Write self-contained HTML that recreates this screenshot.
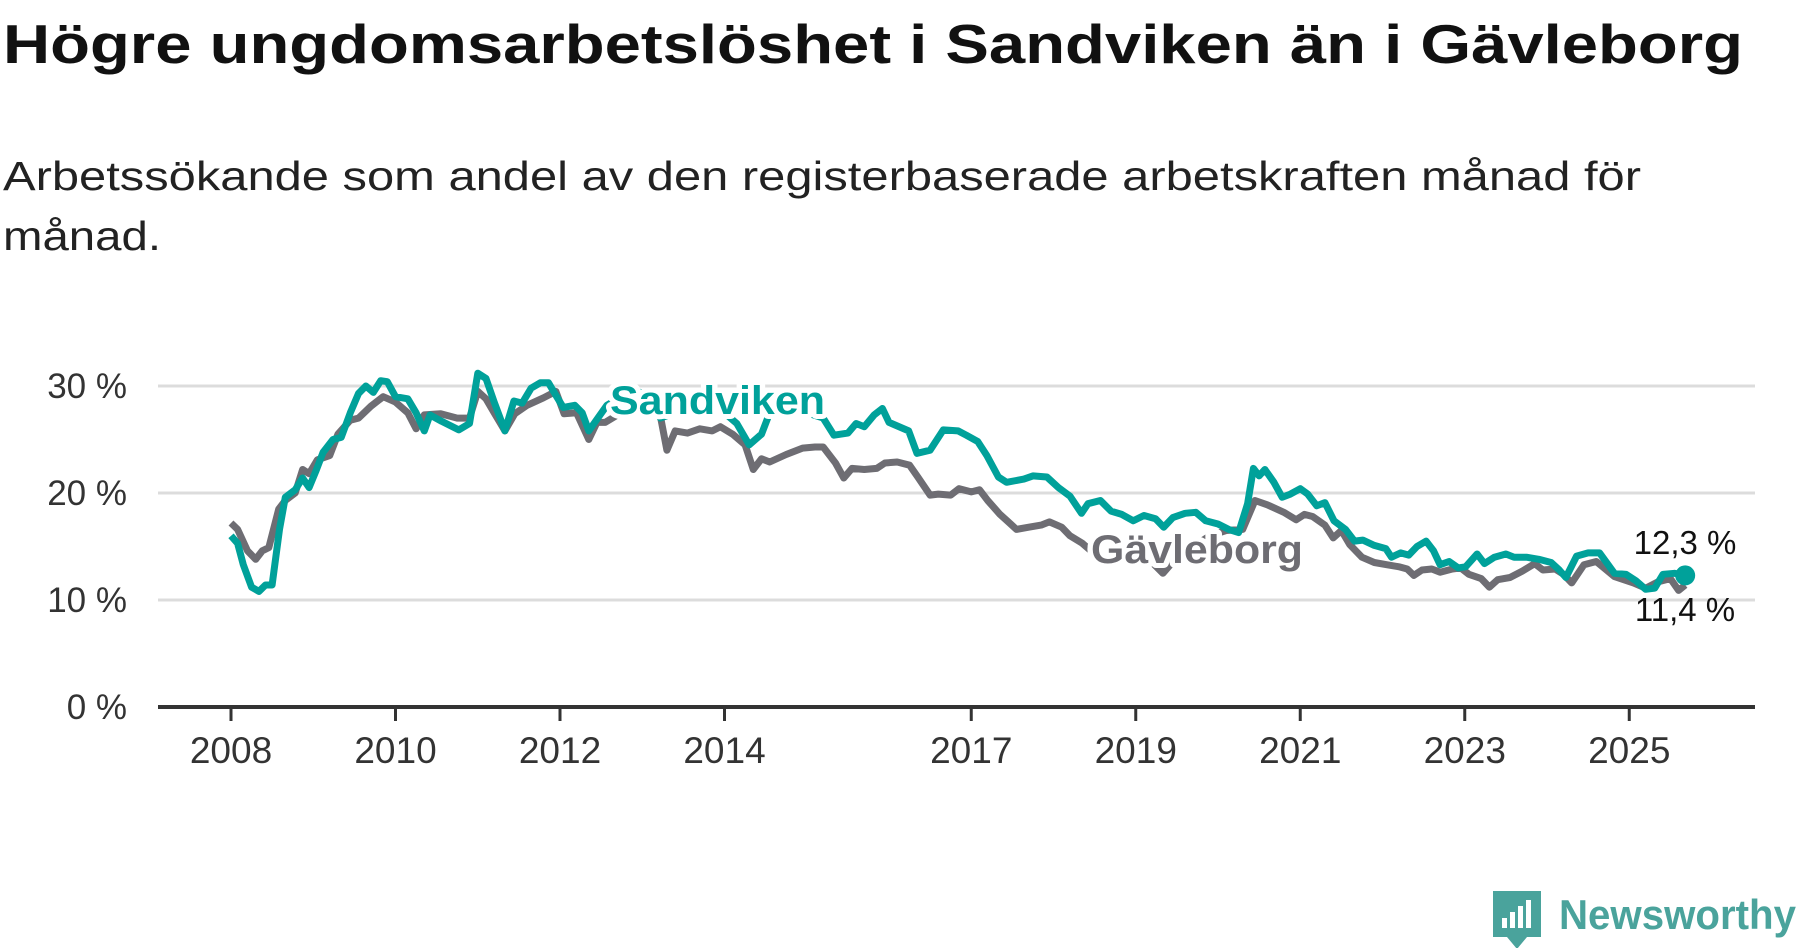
<!DOCTYPE html>
<html><head><meta charset="utf-8">
<style>
html,body{margin:0;padding:0;background:#fff;}
svg{display:block;font-family:"Liberation Sans","DejaVu Sans",sans-serif;}
</style></head>
<body>
<svg id="chart" width="1800" height="948" viewBox="0 0 1800 948">
<text x="3" y="63" font-size="55" font-weight="bold" fill="#111" textLength="1740" lengthAdjust="spacingAndGlyphs">Högre ungdomsarbetslöshet i Sandviken än i Gävleborg</text>
<text x="3" y="190" font-size="41" fill="#222" textLength="1638" lengthAdjust="spacingAndGlyphs">Arbetssökande som andel av den registerbaserade arbetskraften månad för</text>
<text x="3" y="250" font-size="41" fill="#222" textLength="158" lengthAdjust="spacingAndGlyphs">månad.</text>
<g id="grid"></g>
<g id="series"></g>
<g id="labels"></g>
<g>
  <path d="M1493 891 h48 v46 h-14 l-10 12 l-10 -12 h-14 z" fill="#4aa39c"/>
  <rect x="1502" y="918" width="5" height="10" fill="#fff"/>
  <rect x="1510" y="912" width="5" height="16" fill="#fff"/>
  <rect x="1518" y="906" width="5" height="22" fill="#fff"/>
  <rect x="1526" y="900" width="5" height="28" fill="#fff"/>
  <text x="1559" y="929" font-size="42" font-weight="bold" fill="#4aa39c" textLength="237" lengthAdjust="spacingAndGlyphs">Newsworthy</text>
</g>
</svg>
<script>
const yTicks = [0, 10, 20, 30];
const xTickYears = [2008, 2010, 2012, 2014, 2017, 2019, 2021, 2023, 2025];
const sandvikenT = [2008.0,2008.08,2008.15,2008.25,2008.34,2008.42,2008.5,2008.59,2008.66,2008.78,2008.87,2008.95,2009.03,2009.12,2009.24,2009.34,2009.45,2009.55,2009.64,2009.73,2009.82,2009.9,2010.0,2010.15,2010.25,2010.35,2010.42,2010.56,2010.77,2010.9,2011.0,2011.1,2011.2,2011.33,2011.44,2011.54,2011.65,2011.76,2011.86,2011.96,2012.04,2012.18,2012.27,2012.35,2012.46,2012.57,2012.75,2012.95,2013.1,2013.22,2013.4,2013.6,2013.8,2014.0,2014.15,2014.3,2014.45,2014.6,2014.8,2015.0,2015.2,2015.33,2015.5,2015.6,2015.7,2015.82,2015.92,2016.0,2016.24,2016.34,2016.5,2016.66,2016.84,2016.94,2017.08,2017.19,2017.33,2017.43,2017.64,2017.75,2017.92,2018.06,2018.2,2018.34,2018.42,2018.57,2018.7,2018.83,2018.97,2019.1,2019.24,2019.34,2019.45,2019.6,2019.73,2019.85,2020.0,2020.13,2020.25,2020.36,2020.43,2020.5,2020.57,2020.68,2020.78,2020.88,2021.0,2021.09,2021.2,2021.3,2021.41,2021.55,2021.66,2021.76,2021.9,2022.04,2022.11,2022.22,2022.32,2022.42,2022.53,2022.62,2022.7,2022.81,2022.92,2023.01,2023.15,2023.24,2023.36,2023.5,2023.6,2023.75,2023.9,2024.05,2024.15,2024.23,2024.36,2024.5,2024.64,2024.82,2024.96,2025.08,2025.2,2025.31,2025.41,2025.55,2025.68];
const sandvikenV = [16.0,15.3,13.3,11.2,10.8,11.4,11.4,16.6,19.6,20.3,21.4,20.5,22.0,23.8,25.0,25.2,27.5,29.3,30.0,29.4,30.5,30.4,29.0,28.8,27.5,25.8,27.3,26.7,25.9,26.5,31.2,30.7,28.5,25.8,28.6,28.4,29.8,30.3,30.3,29.0,28.0,28.2,27.5,25.8,27.0,28.2,29.0,29.5,28.8,27.0,27.5,28.0,28.3,27.5,26.5,24.5,25.5,28.5,28.8,27.5,27.0,25.4,25.6,26.5,26.2,27.3,27.9,26.6,25.8,23.7,24.0,25.9,25.8,25.4,24.8,23.5,21.5,21.0,21.3,21.6,21.5,20.5,19.7,18.1,19.0,19.3,18.3,18.0,17.4,17.9,17.6,16.8,17.7,18.1,18.2,17.4,17.1,16.6,16.3,19.0,22.3,21.6,22.2,21.0,19.6,19.9,20.4,19.9,18.8,19.1,17.4,16.6,15.5,15.6,15.1,14.8,14.0,14.4,14.2,15.0,15.5,14.6,13.3,13.6,13.0,13.1,14.3,13.4,14.0,14.3,14.0,14.0,13.8,13.5,12.8,12.1,14.1,14.4,14.4,12.5,12.4,11.8,11.0,11.1,12.4,12.5,12.3];
const gavleborgT = [2008.0,2008.08,2008.2,2008.3,2008.38,2008.46,2008.58,2008.66,2008.78,2008.87,2008.95,2009.05,2009.2,2009.3,2009.45,2009.55,2009.7,2009.85,2010.0,2010.15,2010.25,2010.35,2010.55,2010.75,2010.9,2011.0,2011.1,2011.2,2011.33,2011.45,2011.6,2011.8,2011.95,2012.05,2012.2,2012.35,2012.45,2012.55,2012.7,2012.9,2013.1,2013.2,2013.3,2013.4,2013.55,2013.7,2013.85,2013.95,2014.1,2014.25,2014.35,2014.45,2014.55,2014.75,2014.95,2015.1,2015.2,2015.35,2015.45,2015.55,2015.7,2015.85,2015.95,2016.1,2016.25,2016.35,2016.5,2016.6,2016.75,2016.85,2017.0,2017.1,2017.2,2017.35,2017.45,2017.55,2017.7,2017.85,2017.95,2018.1,2018.2,2018.35,2018.5,2018.58,2018.8,2019.0,2019.2,2019.33,2019.5,2019.7,2019.9,2020.1,2020.3,2020.45,2020.6,2020.8,2020.95,2021.05,2021.15,2021.3,2021.4,2021.5,2021.6,2021.75,2021.9,2022.05,2022.2,2022.3,2022.38,2022.48,2022.6,2022.7,2022.85,2022.95,2023.05,2023.2,2023.3,2023.4,2023.55,2023.7,2023.85,2023.95,2024.1,2024.2,2024.3,2024.45,2024.6,2024.82,2025.05,2025.2,2025.35,2025.5,2025.6,2025.68];
const gavleborgV = [17.2,16.6,14.6,13.8,14.6,14.9,18.5,19.3,20.0,22.2,21.8,23.1,23.5,25.5,26.8,27.0,28.1,29.0,28.5,27.5,26.0,27.3,27.4,27.0,27.0,29.5,28.8,27.5,25.8,27.4,28.2,28.9,29.5,27.4,27.5,25.0,26.6,26.6,27.3,28.0,28.5,28.0,24.0,25.8,25.6,26.0,25.8,26.2,25.5,24.5,22.2,23.2,22.9,23.6,24.2,24.3,24.3,22.8,21.4,22.3,22.2,22.3,22.8,22.9,22.6,21.5,19.8,19.9,19.8,20.4,20.1,20.3,19.3,18.0,17.3,16.6,16.8,17.0,17.3,16.8,16.0,15.3,14.3,13.5,14.0,13.8,13.5,12.5,14.0,15.0,16.0,16.5,16.6,19.3,18.9,18.2,17.5,18.0,17.8,17.0,15.8,16.5,15.2,14.0,13.5,13.3,13.1,12.9,12.3,12.8,12.9,12.6,12.9,13.0,12.4,12.0,11.2,11.9,12.1,12.7,13.4,12.8,12.9,12.4,11.6,13.3,13.6,12.2,11.6,11.1,11.7,12.0,10.9,11.4];
const lastSandviken = "12,3 %";
const lastGavleborg = "11,4 %";

const NS='http://www.w3.org/2000/svg';
const X0=158, X1=1755;
const AXIS_Y=707;
function xScale(yr){ return 231 + (yr-2008)*82.25; }
function yScale(v){ return AXIS_Y - v*10.7; }
function mk(tag, attrs, parent){
  const e=document.createElementNS(NS,tag);
  for(const k in attrs) e.setAttribute(k,attrs[k]);
  parent.appendChild(e); return e;
}
const grid=document.getElementById('grid');
yTicks.forEach(t=>{
  if(t>0){
    const l=mk('line',{x1:X0,x2:X1,y1:yScale(t),y2:yScale(t),stroke:'#dcdcdc','stroke-width':3},grid);
    
    
  }
  const tx=mk('text',{x:127,y:yScale(t)+12,'text-anchor':'end','font-size':35,fill:'#333'},grid);
  tx.textContent=t+' %';
  
  
});
const axis=mk('line',{x1:X0,x2:X1,y1:AXIS_Y,y2:AXIS_Y,stroke:'#333','stroke-width':4},grid);


xTickYears.forEach(yr=>{
  const tk=mk('line',{x1:xScale(yr),x2:xScale(yr),y1:AXIS_Y,y2:AXIS_Y+14,stroke:'#333','stroke-width':3},grid);
  
  
  const tl=mk('text',{x:xScale(yr),y:763,'text-anchor':'middle','font-size':37,fill:'#333'},grid);
  tl.textContent=yr;
  
  
});
function pathOf(T,V){ return T.map((t,i)=>(i?'L':'M')+xScale(t).toFixed(1)+' '+yScale(V[i]).toFixed(1)).join(' '); }
const series=document.getElementById('series');
const g=mk('path',{d:pathOf(gavleborgT,gavleborgV),fill:'none',stroke:'#6e6d73','stroke-width':7,'stroke-linejoin':'round'},series);


const s=mk('path',{d:pathOf(sandvikenT,sandvikenV),fill:'none',stroke:'#00a19a','stroke-width':7,'stroke-linejoin':'round'},series);


const lt=sandvikenT.length-1;
const dot=mk('circle',{cx:xScale(sandvikenT[lt]),cy:yScale(sandvikenV[lt]),r:10,fill:'#00a19a'},series);



const labels=document.getElementById('labels');
const sl=mk('text',{x:610,y:414,'font-size':40,'font-weight':'bold',fill:'#00a19a',stroke:'#fff','stroke-width':10,'paint-order':'stroke','stroke-linejoin':'round',textLength:215,lengthAdjust:'spacingAndGlyphs'},labels);
sl.textContent='Sandviken';


const gl=mk('text',{x:1091,y:563,'font-size':40,'font-weight':'bold',fill:'#6e6d73',stroke:'#fff','stroke-width':10,'paint-order':'stroke','stroke-linejoin':'round',textLength:212,lengthAdjust:'spacingAndGlyphs'},labels);
gl.textContent='Gävleborg';


const e1=mk('text',{x:1685,y:554,'text-anchor':'middle','font-size':33,fill:'#111'},labels);
e1.textContent=lastSandviken;


const e2=mk('text',{x:1685,y:621,'text-anchor':'middle','font-size':33,fill:'#111'},labels);
e2.textContent=lastGavleborg;


</script>
</body></html>
